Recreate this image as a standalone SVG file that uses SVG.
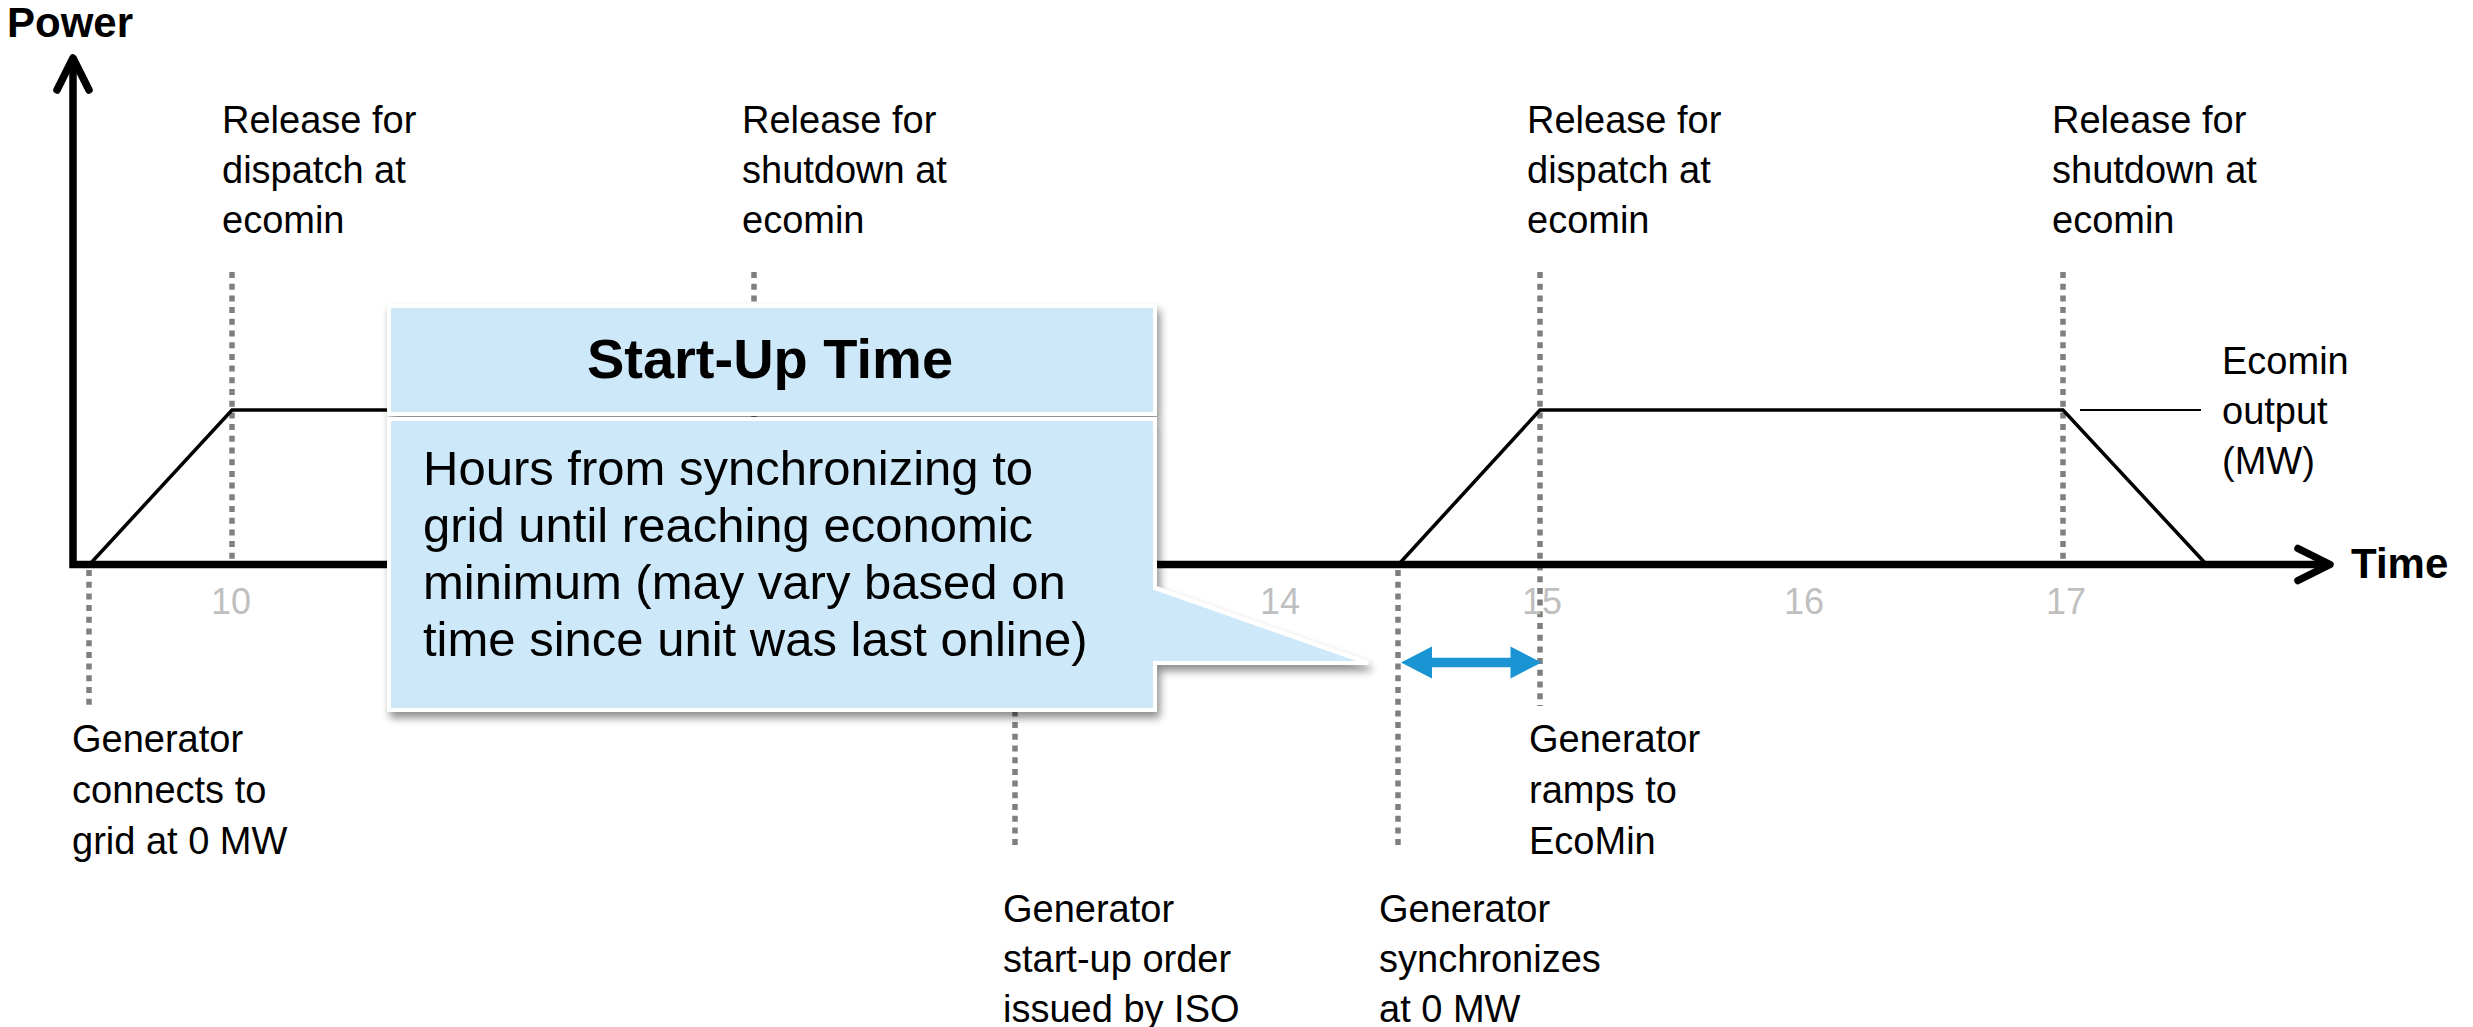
<svg xmlns="http://www.w3.org/2000/svg" width="2473" height="1027" viewBox="0 0 2473 1027">
  <defs>
    <style>
      text { font-family: "Liberation Sans", Arial, sans-serif; fill: #000; }
      .lbl { font-size: 38px; }
      .bold { font-weight: bold; }
      .tick { font-size: 36px; fill: #bfbfbf; text-anchor: middle; }
      .axis { stroke: #000; stroke-width: 7.5; fill: none; }
      .chev { stroke: #000; stroke-width: 7.5; fill: none; stroke-linecap: round; stroke-linejoin: round; }
      .dot { stroke: #7f7f7f; stroke-width: 5.5; stroke-dasharray: 6 5.7; fill: none; }
      .prof { stroke: #000; stroke-width: 3.5; fill: none; stroke-linejoin: miter; }
      .lead { stroke: #000; stroke-width: 2; fill: none; }
      .box { fill: #cde8f8; stroke: #fff; stroke-width: 4; }
      .body { font-size: 49px; }
      .title { font-size: 56px; font-weight: bold; text-anchor: middle; }
    </style>
    <filter id="shadow" x="-5%" y="-5%" width="115%" height="125%">
      <feGaussianBlur in="SourceAlpha" stdDeviation="4"/>
      <feOffset dx="3" dy="6" result="b"/>
      <feComponentTransfer in="b" result="s">
        <feFuncA type="linear" slope="0.45"/>
      </feComponentTransfer>
      <feMerge>
        <feMergeNode in="s"/>
        <feMergeNode in="SourceGraphic"/>
      </feMerge>
    </filter>
  </defs>

  <rect x="0" y="0" width="2473" height="1027" fill="#fff"/>

  <!-- guide lines (dotted) -->
  <g id="guides">
    <line class="dot" x1="232" y1="272" x2="232" y2="560"/>
    <line class="dot" x1="754" y1="272" x2="754" y2="560"/>
    <line class="dot" x1="1540" y1="272" x2="1540" y2="706"/>
    <line class="dot" x1="2063" y1="272" x2="2063" y2="560"/>
    <line class="dot" x1="89" y1="570" x2="89" y2="707"/>
    <line class="dot" x1="1015" y1="570" x2="1015" y2="850"/>
    <line class="dot" x1="1398" y1="570" x2="1398" y2="850"/>
  </g>

  <!-- power profiles -->
  <g id="profiles">
    <polyline class="prof" points="90,564 232,410 400,410"/>
    <polyline class="prof" points="1399,564 1540,410 2063,410 2206,564"/>
    <line class="lead" x1="2080" y1="410" x2="2201" y2="410"/>
  </g>

  <!-- axes -->
  <g id="axes">
    <polyline class="axis" points="73,62 73,564.5 2326,564.5"/>
    <polyline class="chev" points="57,90 73,58 89,90"/>
    <polyline class="chev" points="2298,548.5 2330,564.5 2298,580.5"/>
  </g>

  <g id="axis-titles">
    <text class="bold" x="7" y="37" font-size="42">Power</text>
    <text class="bold" x="2351" y="578" font-size="42">Time</text>
  </g>

  <g id="ticks">
    <text class="tick" x="231" y="614">10</text>
    <text class="tick" x="1280" y="614">14</text>
    <text class="tick" x="1542" y="614">15</text>
    <text class="tick" x="1804" y="614">16</text>
    <text class="tick" x="2066" y="614">17</text>
  </g>

  <g id="label-dispatch-1">
    <text class="lbl" x="222" y="133"><tspan x="222">Release for</tspan><tspan x="222" dy="50">dispatch at</tspan><tspan x="222" dy="50">ecomin</tspan></text>
  </g>
  <g id="label-shutdown-1">
    <text class="lbl" x="742" y="133"><tspan x="742">Release for</tspan><tspan x="742" dy="50">shutdown at</tspan><tspan x="742" dy="50">ecomin</tspan></text>
  </g>
  <g id="label-dispatch-2">
    <text class="lbl" x="1527" y="133"><tspan x="1527">Release for</tspan><tspan x="1527" dy="50">dispatch at</tspan><tspan x="1527" dy="50">ecomin</tspan></text>
  </g>
  <g id="label-shutdown-2">
    <text class="lbl" x="2052" y="133"><tspan x="2052">Release for</tspan><tspan x="2052" dy="50">shutdown at</tspan><tspan x="2052" dy="50">ecomin</tspan></text>
  </g>
  <g id="label-ecomin">
    <text class="lbl" x="2222" y="374"><tspan x="2222">Ecomin</tspan><tspan x="2222" dy="50">output</tspan><tspan x="2222" dy="50">(MW)</tspan></text>
  </g>
  <g id="label-connects">
    <text class="lbl" x="72" y="752"><tspan x="72">Generator</tspan><tspan x="72" dy="51">connects to</tspan><tspan x="72" dy="51">grid at 0 MW</tspan></text>
  </g>
  <g id="label-ramps">
    <text class="lbl" x="1529" y="752"><tspan x="1529">Generator</tspan><tspan x="1529" dy="51">ramps to</tspan><tspan x="1529" dy="51">EcoMin</tspan></text>
  </g>
  <g id="label-startup-order">
    <text class="lbl" x="1003" y="922"><tspan x="1003">Generator</tspan><tspan x="1003" dy="50">start-up order</tspan><tspan x="1003" dy="50">issued by ISO</tspan></text>
  </g>
  <g id="label-synchronizes">
    <text class="lbl" x="1379" y="922"><tspan x="1379">Generator</tspan><tspan x="1379" dy="50">synchronizes</tspan><tspan x="1379" dy="50">at 0 MW</tspan></text>
  </g>

  <!-- callout -->
  <g id="callout-startup-time">
    <g filter="url(#shadow)">
      <rect class="box" x="389" y="306" width="766" height="108"/>
      <polygon class="box" points="389,419 1155,419 1155,588 1368,663 1155,663 1155,710 389,710"/>
    </g>
    <text class="title" x="770" y="378">Start-Up Time</text>
    <text class="body" x="423" y="485"><tspan x="423">Hours from synchronizing to</tspan><tspan x="423" dy="57">grid until reaching economic</tspan><tspan x="423" dy="57">minimum (may vary based on</tspan><tspan x="423" dy="57">time since unit was last online)</tspan></text>
  </g>

  <!-- connectors -->
  <g id="connectors">
    <polygon fill="#1a94d2" points="1401,662.5 1432,646.5 1432,657.7 1510.5,657.7 1510.5,646.5 1541.5,662.5 1510.5,678.5 1510.5,667.3 1432,667.3 1432,678.5"/>
  </g>
</svg>
